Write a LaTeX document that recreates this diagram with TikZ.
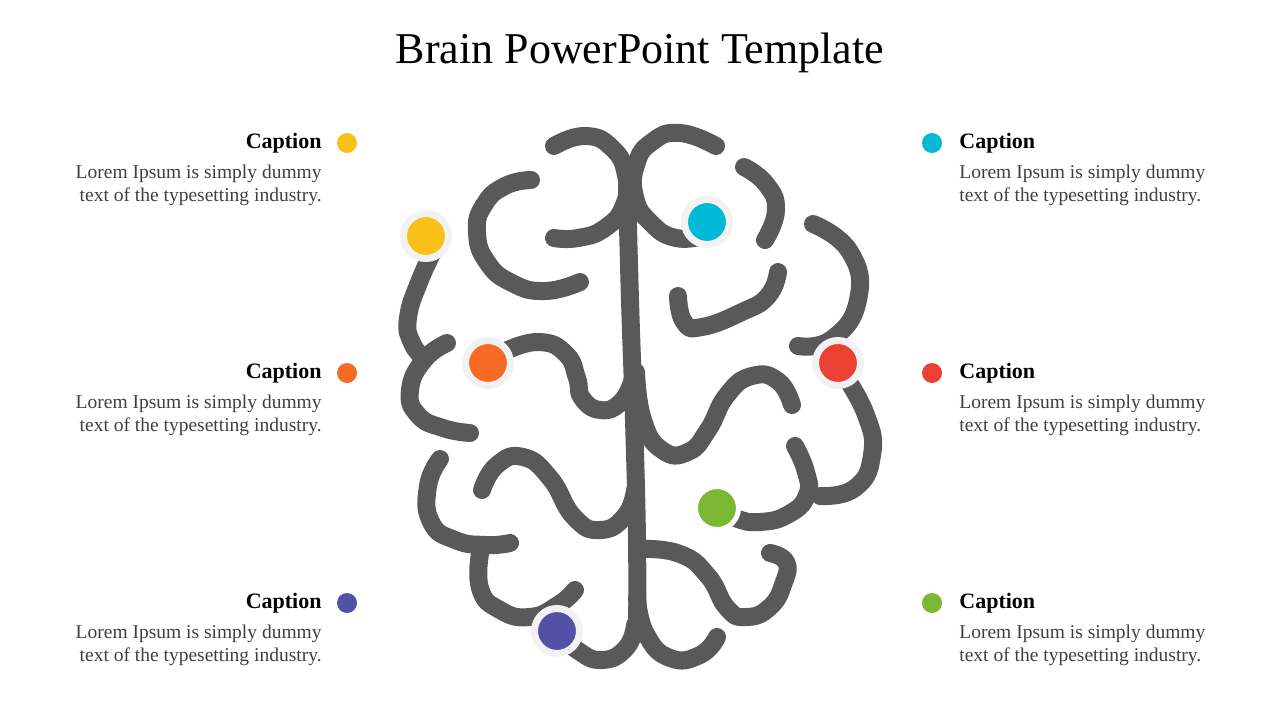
\documentclass[tikz,border=0pt]{standalone}
\usepackage{fontspec}
\setmainfont{Liberation Serif}
\usetikzlibrary{positioning}
\definecolor{brain}{HTML}{595959}
\definecolor{ringgray}{HTML}{F2F2F2}
\definecolor{bodygray}{HTML}{3F3F3F}
\definecolor{capyellow}{HTML}{F9C118}
\definecolor{capcyan}{HTML}{00B9D6}
\definecolor{caporange}{HTML}{F76A26}
\definecolor{capred}{HTML}{EB4034}
\definecolor{capgreen}{HTML}{7AB733}
\definecolor{cappurple}{HTML}{5251A6}

\begin{document}
\begin{tikzpicture}[x=1pt,y=-1pt,
    lobe/.style={draw=brain,line width=18pt,line cap=round,line join=round,smooth,tension=0.85},
    brain dot/.style={circle,draw=ringgray,line width=7pt,minimum size=45pt,inner sep=0pt},
    key dot/.style={circle,minimum size=20pt,inner sep=0pt},
    cap text/.style={font=\fontsize{22}{26}\selectfont\bfseries,inner sep=0pt},
    body text/.style={font=\fontsize{19.5}{23}\selectfont,inner sep=0pt,text=bodygray}]
    \useasboundingbox (0,0) rectangle (1280,720);
    \node[inner sep=0pt,font=\fontsize{44}{50}\selectfont] (title) at (640,53) {Brain PowerPoint Template};

    % brain
    \draw[lobe] plot coordinates {(436,246) (420,280) (408,318) (412,343) (424,358)};
    \draw[lobe] plot coordinates {(447,343) (424,360) (410,390) (418,415) (443,428) (470,433)};
    \draw[lobe] plot coordinates {(508,350) (540,342) (566,354) (577,378) (582,398) (600,410) (620,403) (632,382)};
    \draw[lobe] plot coordinates {(531,180) (505,186) (484,205) (477,232) (487,262) (512,283) (545,291) (580,282)};
    \draw[lobe] plot coordinates {(554,146) (585,136) (612,148) (626,175) (624,205) (605,228) (578,238) (554,238)};
    \draw[lobe] plot coordinates {(716,146) (680,133) (652,142) (636,165) (635,197) (650,222) (676,238) (706,235)};
    \draw[lobe] plot coordinates {(627,185) (630,300) (634,420) (637,540) (637,628)};
    \draw[lobe] plot coordinates {(636,372) (643,420) (662,450) (688,452) (708,430) (727,395) (752,376) (778,381) (792,405)};
    \draw[lobe] plot coordinates {(678,296) (684,322) (702,327) (742,312) (768,296) (778,272)};
    \draw[lobe] plot coordinates {(744,167) (766,184) (776,210) (765,240)};
    \draw[lobe] plot coordinates {(813,224) (850,252) (858,300) (832,339) (798,346)};
    \draw[lobe] plot coordinates {(842,372) (866,415) (872,455) (855,488) (820,496)};
    \draw[lobe] plot coordinates {(795,446) (806,472) (807,495) (789,514) (760,522) (735,518) (717,508)};
    \draw[lobe] plot coordinates {(640,549) (680,554) (708,576) (727,608) (746,617) (770,607) (784,582) (786,562) (770,553)};
    \draw[lobe] plot coordinates {(637,598) (646,634) (670,658) (700,655) (717,637)};
    \draw[lobe] plot coordinates {(557,631) (577,650) (602,660) (626,648) (635,625)};
    \draw[lobe] plot coordinates {(482,490) (497,465) (523,457) (550,478) (574,517) (600,530) (625,516) (635,490)};
    \draw[lobe] plot coordinates {(440,459) (428,486) (431,522) (455,540) (486,545) (510,543)};
    \draw[lobe] plot coordinates {(481,548) (480,588) (500,610) (530,617) (558,605) (575,590)};

    \node[brain dot,fill=capyellow] (yellow) at (426,236) {};
    \node[brain dot,fill=capcyan] (cyan) at (707,222) {};
    \node[brain dot,fill=caporange] (orange) at (488,363) {};
    \node[brain dot,fill=capred] (red) at (838,363) {};
    \node[brain dot,fill=capgreen,draw=white,line width=5pt,minimum size=43pt] (green) at (717,508) {};
    \node[brain dot,fill=cappurple] (purple) at (557,631) {};

    % captions, left
    \node[key dot,fill=capyellow] (dotA) at (347,143) {};
    \node[cap text,left=15pt of dotA] (capA) {Caption};
    \node[body text,align=right,below=12pt of capA.south east,anchor=north east] (bodyA) {Lorem Ipsum is simply dummy\\text of the typesetting industry.};
    \node[key dot,fill=caporange] (dotB) at (347,373) {};
    \node[cap text,left=15pt of dotB] (capB) {Caption};
    \node[body text,align=right,below=12pt of capB.south east,anchor=north east] (bodyB) {Lorem Ipsum is simply dummy\\text of the typesetting industry.};
    \node[key dot,fill=cappurple] (dotC) at (347,603) {};
    \node[cap text,left=15pt of dotC] (capC) {Caption};
    \node[body text,align=right,below=12pt of capC.south east,anchor=north east] (bodyC) {Lorem Ipsum is simply dummy\\text of the typesetting industry.};

    % captions, right
    \node[key dot,fill=capcyan] (dotD) at (932,143) {};
    \node[cap text,right=17pt of dotD] (capD) {Caption};
    \node[body text,align=left,below=12pt of capD.south west,anchor=north west] (bodyD) {Lorem Ipsum is simply dummy\\text of the typesetting industry.};
    \node[key dot,fill=capred] (dotE) at (932,373) {};
    \node[cap text,right=17pt of dotE] (capE) {Caption};
    \node[body text,align=left,below=12pt of capE.south west,anchor=north west] (bodyE) {Lorem Ipsum is simply dummy\\text of the typesetting industry.};
    \node[key dot,fill=capgreen] (dotF) at (932,603) {};
    \node[cap text,right=17pt of dotF] (capF) {Caption};
    \node[body text,align=left,below=12pt of capF.south west,anchor=north west] (bodyF) {Lorem Ipsum is simply dummy\\text of the typesetting industry.};
\end{tikzpicture}
\end{document}
